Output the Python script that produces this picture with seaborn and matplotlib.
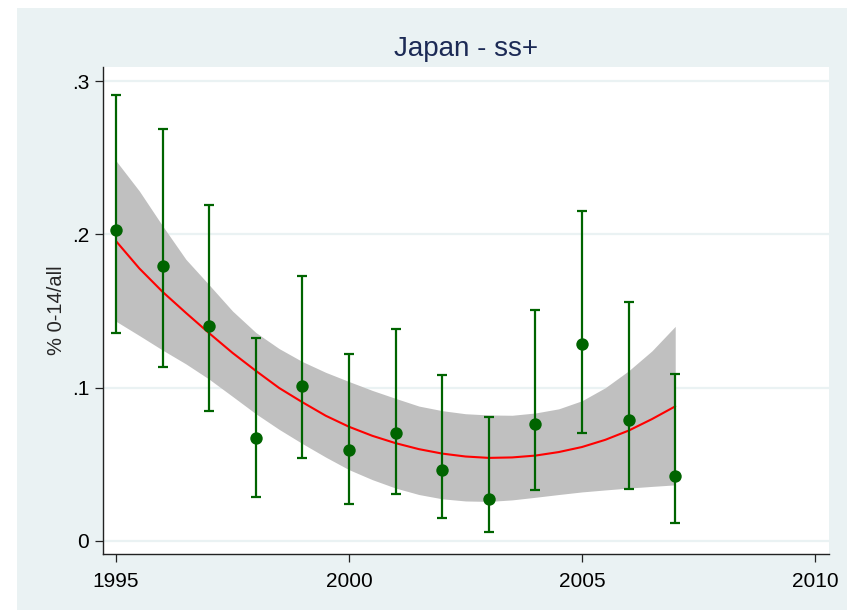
import matplotlib

matplotlib.use("Agg")

import matplotlib.pyplot as plt
import pandas as pd
import seaborn as sns
from matplotlib.patches import Rectangle

# observed share of 0-14 year olds among ss+ cases, with 95% CI
YEARS = [1995, 1996, 1997, 1998, 1999, 2000, 2001, 2002, 2003, 2004, 2005, 2006, 2007]
SHARE = [0.2026, 0.1797, 0.1405, 0.0675, 0.1009, 0.0595, 0.0704, 0.0464, 0.0277,
         0.0765, 0.1285, 0.0791, 0.0427]
SHARE_LOW = [0.1357, 0.1135, 0.0845, 0.0290, 0.0540, 0.0242, 0.0305, 0.0150, 0.0061,
             0.0333, 0.0704, 0.0342, 0.0118]
SHARE_HIGH = [0.2908, 0.2686, 0.2192, 0.1325, 0.1728, 0.1222, 0.1386, 0.1080, 0.0810,
              0.1508, 0.2150, 0.1556, 0.1087]

# quadratic fit and its confidence band, read every half year
FIT_YEARS = [1995.0, 1995.5, 1996.0, 1996.5, 1997.0, 1997.5, 1998.0, 1998.5, 1999.0,
             1999.5, 2000.0, 2000.5, 2001.0, 2001.5, 2002.0, 2002.5, 2003.0, 2003.5,
             2004.0, 2004.5, 2005.0, 2005.5, 2006.0, 2006.5, 2007.0]
FIT = [0.1956, 0.1778, 0.1625, 0.1488, 0.1355, 0.1227, 0.1110, 0.0998, 0.0905,
       0.0817, 0.0745, 0.0686, 0.0638, 0.0599, 0.0570, 0.0551, 0.0542, 0.0545,
       0.0557, 0.0580, 0.0613, 0.0660, 0.0720, 0.0795, 0.0878]
FIT_LOW = [0.1433, 0.1340, 0.1245, 0.1155, 0.1055, 0.0943, 0.0830, 0.0728, 0.0635,
           0.0547, 0.0465, 0.0400, 0.0345, 0.0303, 0.0275, 0.0261, 0.0258, 0.0268,
           0.0285, 0.0303, 0.0320, 0.0333, 0.0345, 0.0356, 0.0366]
FIT_HIGH = [0.2480, 0.2283, 0.2055, 0.1837, 0.1670, 0.1500, 0.1360, 0.1255, 0.1170,
            0.1100, 0.1040, 0.0982, 0.0930, 0.0880, 0.0850, 0.0830, 0.0822, 0.0820,
            0.0835, 0.0862, 0.0915, 0.1000, 0.1110, 0.1240, 0.1400]

X_TICKS = [1995, 2000, 2005, 2010]
Y_TICKS = [0, 0.1, 0.2, 0.3]
Y_TICK_LABELS = ["0", ".1", ".2", ".3"]

BG = "#EAF2F3"
GREEN = "#006400"

sns.set_style("ticks")
plt.rcParams["font.family"] = ["Liberation Sans", "DejaVu Sans"]

points = pd.DataFrame({"year": YEARS, "share": SHARE, "lo": SHARE_LOW, "hi": SHARE_HIGH})
fit = pd.DataFrame({"year": FIT_YEARS, "fit": FIT, "lo": FIT_LOW, "hi": FIT_HIGH})

fig = plt.figure(figsize=(8.47, 6.1), dpi=100, facecolor="white")
fig.patches.append(Rectangle((17 / 847, 0), 1 - 17 / 847, 602 / 610,
                             transform=fig.transFigure, facecolor=BG,
                             edgecolor="none", zorder=-10))
ax = fig.add_axes([103 / 847, 56 / 610, 726 / 847, 487 / 610])
ax.set_zorder(1)
ax.set_facecolor("white")

ax.fill_between(fit["year"], fit["lo"], fit["hi"], color="#C0C0C0",
                linewidth=0, zorder=2)
sns.lineplot(data=fit, x="year", y="fit", color="red", linewidth=1.5, ax=ax, zorder=3)
ax.errorbar(points["year"], points["share"],
            yerr=[points["share"] - points["lo"], points["hi"] - points["share"]],
            fmt="none", ecolor=GREEN, elinewidth=1.6, capsize=3.7, capthick=1.6,
            zorder=4)
sns.scatterplot(data=points, x="year", y="share", color=GREEN, s=80, edgecolor=GREEN,
                linewidth=0, ax=ax, zorder=5)

ax.set_xlim(1994.72, 2010.3)
ax.set_ylim(-0.0085, 0.3092)
ax.set_xticks(X_TICKS)
ax.set_xticklabels([str(t) for t in X_TICKS])
ax.set_yticks(Y_TICKS)
ax.set_yticklabels(Y_TICK_LABELS)
ax.yaxis.grid(True, color=BG, linewidth=1.6, zorder=1)
ax.set_axisbelow(True)

for side in ["top", "right"]:
    ax.spines[side].set_visible(False)
for side in ["left", "bottom"]:
    ax.spines[side].set_color("#222222")
    ax.spines[side].set_linewidth(1.0)
ax.tick_params(axis="both", direction="out", length=6, width=0.9, color="#222222",
               labelsize=15, labelcolor="black", pad=4)
ax.tick_params(axis="x", pad=7)

ax.set_xlabel("")
ax.set_ylabel("% 0-14/all", fontsize=14.5, labelpad=4)
ax.set_title("Japan - ss+", fontsize=20, color="#1C2A55", pad=8)

fig.savefig("out.png", dpi=100, facecolor="white")
